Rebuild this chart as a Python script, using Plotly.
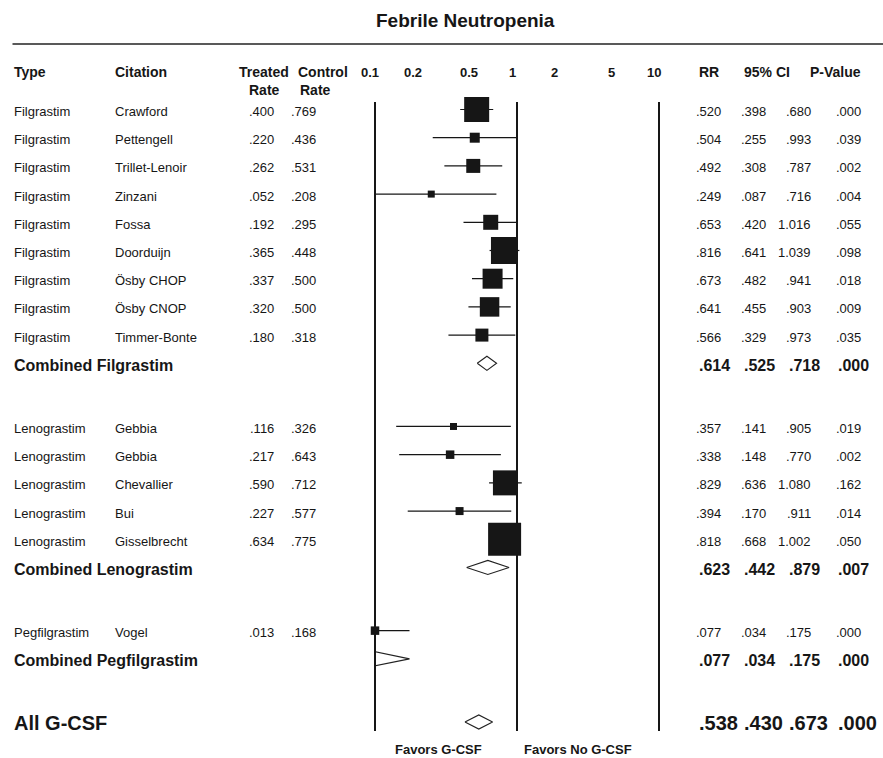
import math
import plotly.graph_objects as go

# ---------------- data ----------------
fil_cite = ["Crawford", "Pettengell", "Trillet-Lenoir", "Zinzani", "Fossa",
            "Doorduijn", "Ösby CHOP", "Ösby CNOP", "Timmer-Bonte"]
fil_treated = [.400, .220, .262, .052, .192, .365, .337, .320, .180]
fil_control = [.769, .436, .531, .208, .295, .448, .500, .500, .318]
fil_rr = [.520, .504, .492, .249, .653, .816, .673, .641, .566]
fil_lo = [.398, .255, .308, .087, .420, .641, .482, .455, .329]
fil_hi = [.680, .993, .787, .716, 1.016, 1.039, .941, .903, .973]
fil_p = [.000, .039, .002, .004, .055, .098, .018, .009, .035]
fil_comb = [.614, .525, .718, .000]

len_cite = ["Gebbia", "Gebbia", "Chevallier", "Bui", "Gisselbrecht"]
len_treated = [.116, .217, .590, .227, .634]
len_control = [.326, .643, .712, .577, .775]
len_rr = [.357, .338, .829, .394, .818]
len_lo = [.141, .148, .636, .170, .668]
len_hi = [.905, .770, 1.080, .911, 1.002]
len_p = [.019, .002, .162, .014, .050]
len_comb = [.623, .442, .879, .007]

peg_cite = ["Vogel"]
peg_treated = [.013]
peg_control = [.168]
peg_rr = [.077]
peg_lo = [.034]
peg_hi = [.175]
peg_p = [.000]
peg_comb = [.077, .034, .175, .000]

all_comb = [.538, .430, .673, .000]

tick_values = [0.1, 0.2, 0.5, 1, 2, 5, 10]
tick_labels = ["0.1", "0.2", "0.5", "1", "2", "5", "10"]

# ---------------- styling / layout ----------------
W, H = 883, 758
ROW_PX = 28.2          # pixel height of one study row
FIRST_ROW_PX = 109.5   # pixel centre of the first study row
GROUP_GAP = 2.24       # rows between a combined line and the next group
AX_LEFT_PX, AX_RIGHT_PX = 375, 659   # pixels of RR = 0.1 and RR = 10
PAD_DEC = 0.05         # extra decades each side so edge rules are not clipped
INK = "#161616"
FONT = "Liberation Sans, Arial, Helvetica, sans-serif"

# study-box side lengths (px), proportional to study weight
box_px = {
    "Filgrastim": [25, 10, 14, 7, 15, 27, 20, 19.5, 13],
    "Lenograstim": [7, 8.5, 25, 8, 33],
    "Pegfilgrastim": [8.5],
}
DIAMOND_HALF = 0.25    # diamond half-height in row units

groups = [
    ("Filgrastim", fil_cite, fil_treated, fil_control, fil_rr, fil_lo, fil_hi, fil_p,
     "Combined Filgrastim", fil_comb),
    ("Lenograstim", len_cite, len_treated, len_control, len_rr, len_lo, len_hi, len_p,
     "Combined Lenograstim", len_comb),
    ("Pegfilgrastim", peg_cite, peg_treated, peg_control, peg_rr, peg_lo, peg_hi, peg_p,
     "Combined Pegfilgrastim", peg_comb),
]

LO_LIM, HI_LIM = tick_values[0], tick_values[-1]


def clamp(v):
    return min(max(v, LO_LIM), HI_LIM)


def fmt(v):
    s = f"{v:.3f}"
    return s[1:] if s.startswith("0.") else s


def px(x):
    return x / W


fig = go.Figure()
annotations = []


def text(x_px, y, s, size=13, bold=False, anchor="left", yshift=-2):
    annotations.append(dict(
        x=px(x_px), y=y, xref="paper", yref="y", text=f"<b>{s}</b>" if bold else s,
        showarrow=False, xanchor=anchor, yanchor="middle", yshift=yshift,
        font=dict(family=FONT, size=size, color=INK)))


ci_x, ci_y = [], []
sq_x, sq_y, sq_s = [], [], []
diamonds = []

pos = 0.0
for (gname, cites, tr, co, rr, lo, hi, pv, comb_name, comb) in groups:
    for i, c in enumerate(cites):
        y = pos
        ci_x += [clamp(lo[i]), clamp(hi[i]), None]
        ci_y += [y, y, None]
        sq_x.append(clamp(rr[i]))
        sq_y.append(y)
        sq_s.append(box_px[gname][i])
        text(12, y, gname)
        text(113, y, c)
        text(275.5, y, fmt(tr[i]), anchor="right")
        text(317.5, y, fmt(co[i]), anchor="right")
        text(722.5, y, fmt(rr[i]), anchor="right")
        text(767.5, y, fmt(lo[i]), anchor="right")
        text(812.5, y, fmt(hi[i]), anchor="right")
        text(862.5, y, fmt(pv[i]), anchor="right")
        pos += 1
    diamonds.append((pos, comb))
    text(12, pos, comb_name, size=16, bold=True)
    for xp, v in zip([697, 742, 787, 836], comb):
        text(xp, pos, fmt(v), size=16, bold=True)
    pos += GROUP_GAP

# overall effect
all_y = pos
diamonds.append((all_y, all_comb))
text(12, all_y, "All G-CSF", size=20, bold=True, yshift=-1)
for xp, v in zip([697, 742, 787, 836], all_comb):
    text(xp, all_y, fmt(v), size=20, bold=True, yshift=-1)

# confidence intervals
fig.add_trace(go.Scatter(x=ci_x, y=ci_y, mode="lines",
                         line=dict(color=INK, width=1.2), hoverinfo="skip"))
# study boxes
fig.add_trace(go.Scatter(x=sq_x, y=sq_y, mode="markers", cliponaxis=False,
                         marker=dict(symbol="square", size=sq_s, color=INK, opacity=1,
                                     line=dict(width=0)),
                         hoverinfo="skip"))
# pooled diamonds
for y, (rr, lo, hi, _p) in diamonds:
    a, m, b = clamp(lo), clamp(rr), clamp(hi)
    fig.add_trace(go.Scatter(
        x=[a, m, b, m, a],
        y=[y, y - DIAMOND_HALF, y, y + DIAMOND_HALF, y],
        mode="lines", fill="toself", fillcolor="white",
        line=dict(color="#222222", width=1.1), hoverinfo="skip"))

# header
HEAD_Y = -1.40
RATE_Y = -0.75
text(12, HEAD_Y, "Type", size=14, bold=True)
text(113, HEAD_Y, "Citation", size=14, bold=True)
text(263.5, HEAD_Y, "Treated", size=14, bold=True, anchor="center")
text(264.5, RATE_Y, "Rate", size=14, bold=True, anchor="center")
text(296, HEAD_Y, "Control", size=14, bold=True)
text(298, RATE_Y, "Rate", size=14, bold=True)
text(697, HEAD_Y, "RR", size=14, bold=True)
text(742, HEAD_Y, "95% CI", size=14, bold=True)
text(862.5, HEAD_Y, "P-Value", size=14, bold=True, anchor="right")
# scale labels (annotation x on a log axis is given in log10 units)
for v, lab in zip(tick_values, tick_labels):
    annotations.append(dict(
        x=math.log10(v), y=HEAD_Y, xref="x", yref="y", text=f"<b>{lab}</b>",
        showarrow=False, xanchor="center", yanchor="middle", xshift=-5, yshift=-2,
        font=dict(family=FONT, size=13, color=INK)))

# title and footer
annotations.append(dict(
    x=px(465), y=-3.17, xref="paper", yref="y", text="<b>Febrile Neutropenia</b>",
    showarrow=False, xanchor="center", yanchor="middle",
    font=dict(family=FONT, size=19, color=INK)))
FOOT_Y = all_y + 0.98
annotations.append(dict(
    x=math.log10(0.5), y=FOOT_Y, xref="x", yref="y", text="<b>Favors G-CSF</b>",
    showarrow=False, xanchor="center", yanchor="middle", xshift=-36,
    font=dict(family=FONT, size=13, color=INK)))
annotations.append(dict(
    x=math.log10(2), y=FOOT_Y, xref="x", yref="y", text="<b>Favors No G-CSF</b>",
    showarrow=False, xanchor="center", yanchor="middle", xshift=18,
    font=dict(family=FONT, size=13, color=INK)))

# reference rules at RR = 0.1, 1 and 10
shapes = []
for v in (LO_LIM, 1, HI_LIM):
    shapes.append(dict(type="line", xref="x", yref="y", x0=v, x1=v,
                       y0=-0.27, y1=all_y + 0.32, layer="above",
                       line=dict(color=INK, width=2)))
# rule under the title
shapes.append(dict(type="line", xref="paper", yref="y", x0=px(12.5), x1=1,
                   y0=-2.32, y1=-2.32, line=dict(color="#222222", width=1.5)))

dec_px = (AX_RIGHT_PX - AX_LEFT_PX) / 2.0
fig.update_layout(
    width=W, height=H, margin=dict(l=0, r=0, t=0, b=0),
    paper_bgcolor="white", plot_bgcolor="white", showlegend=False,
    xaxis=dict(type="log", range=[-1 - PAD_DEC, 1 + PAD_DEC],
               domain=[px(AX_LEFT_PX - PAD_DEC * dec_px), px(AX_RIGHT_PX + PAD_DEC * dec_px)],
               visible=False),
    yaxis=dict(range=[(H - FIRST_ROW_PX) / ROW_PX, (0 - FIRST_ROW_PX) / ROW_PX],
               domain=[0, 1], visible=False),
    annotations=annotations, shapes=shapes,
)

fig.write_html("out.html")
